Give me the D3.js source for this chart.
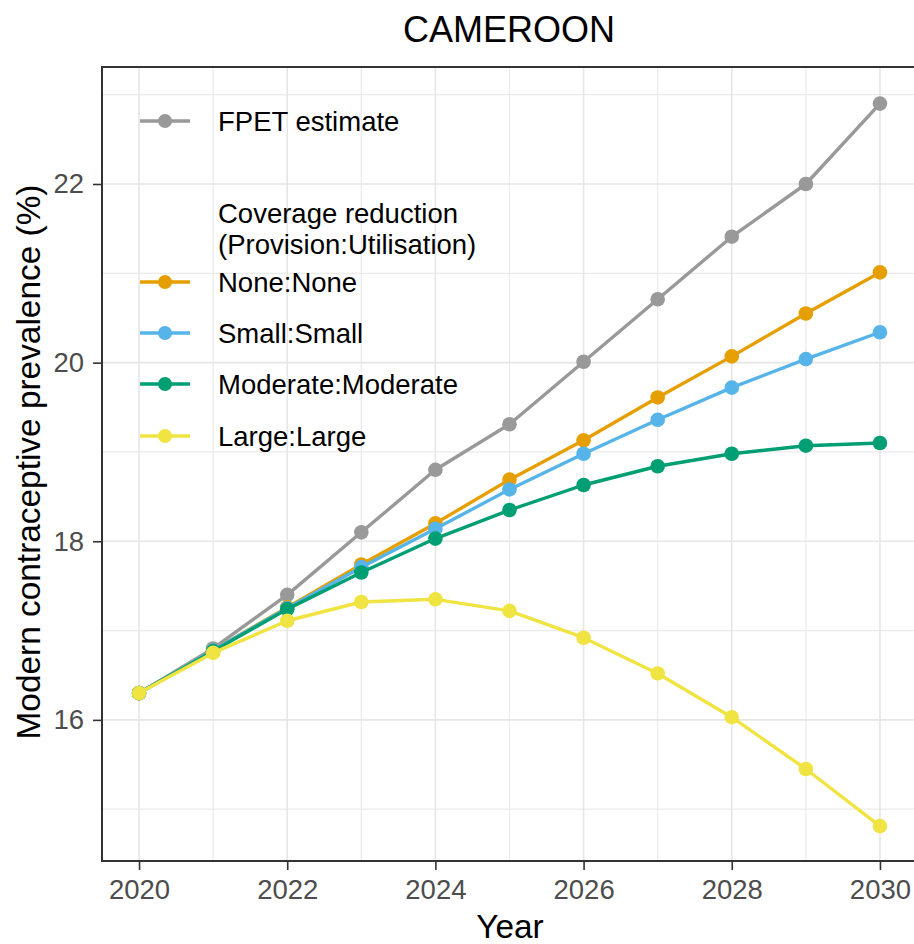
<!DOCTYPE html>
<html>
<head>
<meta charset="utf-8">
<script src="https://cdn.jsdelivr.net/npm/d3@7"></script>
<style>
  html, body { margin: 0; padding: 0; background: #fff; }
  svg { display: block; font-family: "Liberation Sans", Arial, sans-serif; }
</style>
</head>
<body>
<svg id="chart" width="914" height="944"></svg>
<script>
const title = "CAMEROON";
const xTitle = "Year";
const yTitle = "Modern contraceptive prevalence (%)";
const years = [2020, 2021, 2022, 2023, 2024, 2025, 2026, 2027, 2028, 2029, 2030];
const fpet     = [16.30, 16.80, 17.40, 18.10, 18.80, 19.31, 20.01, 20.71, 21.41, 22.00, 22.90];
const noneNone = [16.30, 16.78, 17.26, 17.74, 18.20, 18.69, 19.13, 19.61, 20.07, 20.55, 21.01];
const smallSmall = [16.30, 16.78, 17.25, 17.71, 18.14, 18.58, 18.98, 19.36, 19.72, 20.04, 20.34];
const modMod   = [16.30, 16.77, 17.24, 17.65, 18.03, 18.35, 18.63, 18.84, 18.98, 19.07, 19.10];
const largeLarge = [16.30, 16.75, 17.11, 17.32, 17.35, 17.22, 16.92, 16.52, 16.03, 15.45, 14.81];
const seriesNames = ["FPET estimate", "None:None", "Small:Small", "Moderate:Moderate", "Large:Large"];
const seriesColors = ["#999999", "#E69F00", "#56B4E9", "#009E73", "#F0E442"];
const seriesValues = [fpet, noneNone, smallSmall, modMod, largeLarge];
const legendTitle = ["Coverage reduction", "(Provision:Utilisation)"];
const xTicks = [2020, 2022, 2024, 2026, 2028, 2030];
const xMinor = [2021, 2023, 2025, 2027, 2029];
const yTicks = [16, 18, 20, 22];
const yMinor = [15, 17, 19, 21, 23];
const xLimits = [2019.5, 2030.5];
const yLimits = [14.42, 23.31];

const svg = d3.select("#chart");
const panel = {left: 102, top: 67, right: 917, bottom: 861};

const x = d3.scaleLinear().domain(xLimits).range([panel.left, panel.right]);
const y = d3.scaleLinear().domain(yLimits).range([panel.bottom, panel.top]);

// grid
const grid = svg.append("g");
grid.selectAll(".gxm").data(xMinor).join("line")
  .attr("x1", d => x(d)).attr("x2", d => x(d))
  .attr("y1", panel.top).attr("y2", panel.bottom)
  .attr("stroke", "#EBEBEB").attr("stroke-width", 1.2);
grid.selectAll(".gym").data(yMinor).join("line")
  .attr("y1", d => y(d)).attr("y2", d => y(d))
  .attr("x1", panel.left).attr("x2", panel.right)
  .attr("stroke", "#EBEBEB").attr("stroke-width", 1.2);
grid.selectAll(".gx").data(xTicks).join("line")
  .attr("x1", d => x(d)).attr("x2", d => x(d))
  .attr("y1", panel.top).attr("y2", panel.bottom)
  .attr("stroke", "#E6E6E6").attr("stroke-width", 1.6);
grid.selectAll(".gy").data(yTicks).join("line")
  .attr("y1", d => y(d)).attr("y2", d => y(d))
  .attr("x1", panel.left).attr("x2", panel.right)
  .attr("stroke", "#E6E6E6").attr("stroke-width", 1.6);

// legend
const lg = svg.append("g");
const keyX1 = 140, keyX2 = 190, textX = 218;
const legendRows = [
  {i: 0, y: 121},
  {i: 1, y: 282},
  {i: 2, y: 333},
  {i: 3, y: 384},
  {i: 4, y: 436}
];
legendRows.forEach(r => {
  lg.append("line").attr("x1", keyX1).attr("x2", keyX2)
    .attr("y1", r.y).attr("y2", r.y)
    .attr("stroke", seriesColors[r.i]).attr("stroke-width", 3.4);
  lg.append("circle").attr("cx", (keyX1 + keyX2) / 2).attr("cy", r.y).attr("r", 7)
    .attr("fill", seriesColors[r.i]);
  lg.append("text").attr("x", textX).attr("y", r.y + 9.8)
    .attr("font-size", 27.5).attr("fill", "#000").text(seriesNames[r.i]);
});
lg.append("text").attr("x", textX).attr("y", 223).attr("font-size", 27.5).attr("fill", "#000").text(legendTitle[0]);
lg.append("text").attr("x", textX).attr("y", 254).attr("font-size", 27.5).attr("fill", "#000").text(legendTitle[1]);

// series
const line = d3.line().x((d, i) => x(years[i])).y(d => y(d));
const sg = svg.append("g");
seriesValues.forEach((vals, k) => {
  const g = sg.append("g");
  g.append("path").datum(vals).attr("d", line)
    .attr("fill", "none").attr("stroke", seriesColors[k]).attr("stroke-width", 3.4)
    .attr("stroke-linejoin", "round");
  g.selectAll("circle").data(vals).join("circle")
    .attr("cx", (d, i) => x(years[i])).attr("cy", d => y(d)).attr("r", 7.3)
    .attr("fill", seriesColors[k]);
});

// panel border
svg.append("rect").attr("x", panel.left).attr("y", panel.top)
  .attr("width", panel.right - panel.left).attr("height", panel.bottom - panel.top)
  .attr("fill", "none").attr("stroke", "#333333").attr("stroke-width", 2);

// axes
const xAxis = d3.axisBottom(x).tickValues(xTicks).tickFormat(d3.format("d")).tickSize(9).tickPadding(9);
const gx = svg.append("g").attr("transform", `translate(0,${panel.bottom})`).call(xAxis);
gx.select(".domain").remove();
gx.selectAll("line").attr("stroke", "#333333").attr("stroke-width", 1.6);
gx.selectAll("text").attr("font-size", 27.5).attr("fill", "#4D4D4D").attr("font-family", "Liberation Sans, Arial, sans-serif");

const yAxis = d3.axisLeft(y).tickValues(yTicks).tickFormat(d3.format("d")).tickSize(9).tickPadding(9);
const gy = svg.append("g").attr("transform", `translate(${panel.left},0)`).call(yAxis);
gy.select(".domain").remove();
gy.selectAll("line").attr("stroke", "#333333").attr("stroke-width", 1.6);
gy.selectAll("text").attr("font-size", 27.5).attr("fill", "#4D4D4D").attr("font-family", "Liberation Sans, Arial, sans-serif");

// titles
svg.append("text").attr("x", 509).attr("y", 41.5).attr("text-anchor", "middle")
  .attr("font-size", 36).attr("fill", "#000").text(title);
svg.append("text").attr("x", 510).attr("y", 938).attr("text-anchor", "middle")
  .attr("font-size", 33.4).attr("fill", "#000").text(xTitle);
svg.append("text").attr("transform", `translate(40,462) rotate(-90)`).attr("text-anchor", "middle")
  .attr("font-size", 33.4).attr("fill", "#000").text(yTitle);
</script>
</body>
</html>
